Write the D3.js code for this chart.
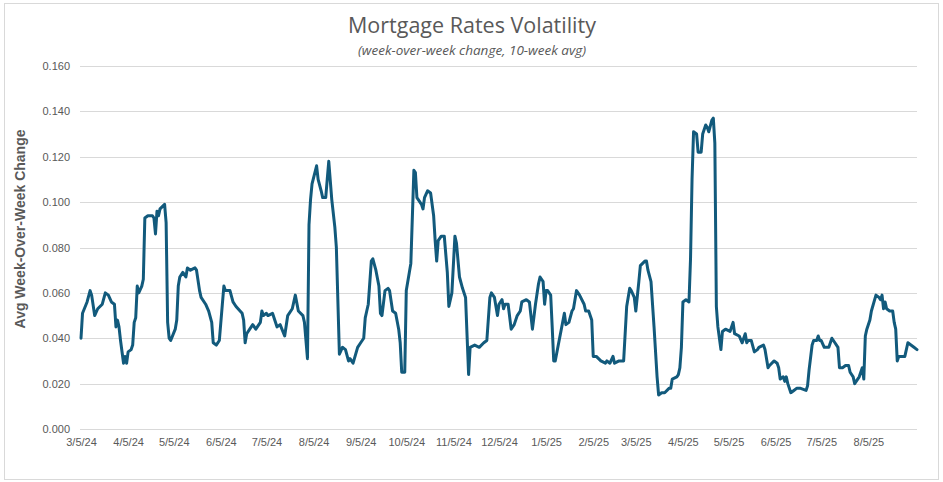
<!DOCTYPE html>
<html>
<head>
<meta charset="utf-8">
<script src="https://cdn.jsdelivr.net/npm/d3@7"></script>
<style>
  html, body { margin: 0; padding: 0; background: #fff; }
  svg { display: block; }
</style>
</head>
<body>
<svg id="chart" width="943" height="482"></svg>
<script>
const titleText = "Mortgage Rates Volatility";
const subtitleText = "(week-over-week change, 10-week avg)";
const yAxisTitle = "Avg Week-Over-Week Change";

const dates = [
"2024-03-05","2024-03-06","2024-03-09","2024-03-11","2024-03-12","2024-03-14","2024-03-16","2024-03-19","2024-03-21","2024-03-23",
"2024-03-25","2024-03-27","2024-03-28","2024-03-29","2024-03-30","2024-03-31","2024-04-02","2024-04-03","2024-04-04","2024-04-05",
"2024-04-07","2024-04-08","2024-04-09","2024-04-10","2024-04-11","2024-04-12","2024-04-14","2024-04-15","2024-04-16","2024-04-18",
"2024-04-21","2024-04-22","2024-04-23","2024-04-24","2024-04-25","2024-04-26","2024-04-29","2024-04-30","2024-05-01","2024-05-02",
"2024-05-03","2024-05-06","2024-05-07","2024-05-08","2024-05-09","2024-05-11","2024-05-13","2024-05-14","2024-05-16","2024-05-19",
"2024-05-20","2024-05-22","2024-05-23","2024-05-26","2024-05-28","2024-05-30","2024-05-31","2024-06-02","2024-06-04","2024-06-06",
"2024-06-07","2024-06-08","2024-06-11","2024-06-13","2024-06-15","2024-06-19","2024-06-20","2024-06-21","2024-06-22","2024-06-24",
"2024-06-26","2024-06-28","2024-07-01","2024-07-02","2024-07-03","2024-07-05","2024-07-06","2024-07-09","2024-07-12","2024-07-14",
"2024-07-17","2024-07-19","2024-07-22","2024-07-24","2024-07-26","2024-07-29","2024-07-30","2024-08-01","2024-08-02","2024-08-03",
"2024-08-04","2024-08-07","2024-08-08","2024-08-10","2024-08-11","2024-08-13","2024-08-14","2024-08-15","2024-08-17","2024-08-19",
"2024-08-20","2024-08-22","2024-08-24","2024-08-26","2024-08-28","2024-08-29","2024-08-31","2024-09-03","2024-09-05","2024-09-07",
"2024-09-08","2024-09-09","2024-09-10","2024-09-12","2024-09-13","2024-09-15","2024-09-17","2024-09-18","2024-09-19","2024-09-21",
"2024-09-23","2024-09-24","2024-09-26","2024-09-28","2024-09-30","2024-10-01","2024-10-02","2024-10-04","2024-10-05","2024-10-07",
"2024-10-08","2024-10-10","2024-10-11","2024-10-12","2024-10-15","2024-10-16","2024-10-17","2024-10-19","2024-10-21","2024-10-23",
"2024-10-24","2024-10-25","2024-10-26","2024-10-28","2024-10-30","2024-11-01","2024-11-02","2024-11-04","2024-11-06","2024-11-07",
"2024-11-09","2024-11-11","2024-11-13","2024-11-14","2024-11-15","2024-11-16","2024-11-19","2024-11-22","2024-11-25","2024-11-27",
"2024-11-29","2024-11-30","2024-12-02","2024-12-04","2024-12-05","2024-12-07","2024-12-08","2024-12-09","2024-12-11","2024-12-13",
"2024-12-15","2024-12-17","2024-12-19","2024-12-20","2024-12-23","2024-12-25","2024-12-27","2024-12-29","2024-12-31","2025-01-01",
"2025-01-03","2025-01-04","2025-01-05","2025-01-06","2025-01-08","2025-01-09","2025-01-10","2025-01-11","2025-01-13","2025-01-15",
"2025-01-17","2025-01-18","2025-01-20","2025-01-22","2025-01-23","2025-01-25","2025-01-27","2025-01-30","2025-01-31","2025-02-02",
"2025-02-04","2025-02-05","2025-02-07","2025-02-10","2025-02-13","2025-02-14","2025-02-16","2025-02-18","2025-02-19","2025-02-22",
"2025-02-25","2025-02-27","2025-03-01","2025-03-02","2025-03-04","2025-03-05","2025-03-07","2025-03-08","2025-03-11","2025-03-12",
"2025-03-13","2025-03-15","2025-03-17","2025-03-19","2025-03-20","2025-03-22","2025-03-24","2025-03-27","2025-03-28","2025-03-29",
"2025-04-01","2025-04-02","2025-04-03","2025-04-04","2025-04-05","2025-04-07","2025-04-09","2025-04-10","2025-04-11","2025-04-12",
"2025-04-14","2025-04-15","2025-04-17","2025-04-18","2025-04-20","2025-04-21","2025-04-22","2025-04-24","2025-04-25","2025-04-26",
"2025-04-27","2025-04-28","2025-04-30","2025-05-01","2025-05-03","2025-05-06","2025-05-08","2025-05-09","2025-05-12","2025-05-14",
"2025-05-16","2025-05-17","2025-05-18","2025-05-20","2025-05-22","2025-05-24","2025-05-25","2025-05-28","2025-05-29","2025-05-31",
"2025-06-01","2025-06-04","2025-06-06","2025-06-07","2025-06-08","2025-06-10","2025-06-11","2025-06-12","2025-06-13","2025-06-15",
"2025-06-17","2025-06-19","2025-06-21","2025-06-25","2025-06-26","2025-06-27","2025-06-29","2025-06-30","2025-07-02","2025-07-03",
"2025-07-04","2025-07-05","2025-07-07","2025-07-09","2025-07-10","2025-07-12","2025-07-14","2025-07-16","2025-07-17","2025-07-19",
"2025-07-21","2025-07-23","2025-07-24","2025-07-26","2025-07-27","2025-07-30","2025-07-31","2025-08-01","2025-08-02","2025-08-03",
"2025-08-04","2025-08-06","2025-08-07","2025-08-10","2025-08-12","2025-08-13","2025-08-14","2025-08-15","2025-08-16","2025-08-17",
"2025-08-19","2025-08-21","2025-08-22","2025-08-23","2025-08-24","2025-08-25","2025-08-27","2025-08-29","2025-08-31","2025-09-02",
"2025-09-04","2025-09-06"
];

const volatility = [
0.040,0.051,0.056,0.061,0.059,0.050,0.053,0.055,0.060,0.059,
0.056,0.055,0.045,0.048,0.045,0.039,0.029,0.032,0.029,0.034,
0.035,0.037,0.047,0.049,0.063,0.060,0.063,0.066,0.093,0.094,
0.094,0.093,0.086,0.096,0.094,0.097,0.099,0.091,0.047,0.040,
0.039,0.044,0.048,0.063,0.067,0.069,0.067,0.071,0.070,0.071,
0.070,0.061,0.058,0.055,0.052,0.047,0.038,0.037,0.039,0.055,
0.063,0.061,0.061,0.056,0.054,0.051,0.048,0.038,0.042,0.044,
0.046,0.044,0.047,0.052,0.050,0.051,0.050,0.051,0.045,0.046,
0.041,0.050,0.053,0.059,0.052,0.050,0.047,0.031,0.090,0.101,
0.108,0.116,0.110,0.105,0.102,0.102,0.110,0.118,0.101,0.089,
0.080,0.033,0.036,0.035,0.030,0.031,0.029,0.036,0.038,0.040,
0.049,0.052,0.055,0.074,0.075,0.070,0.063,0.051,0.050,0.061,
0.062,0.061,0.052,0.051,0.044,0.038,0.025,0.025,0.061,0.069,
0.073,0.114,0.113,0.102,0.099,0.097,0.102,0.105,0.104,0.094,
0.083,0.074,0.083,0.085,0.085,0.069,0.054,0.060,0.085,0.082,
0.067,0.062,0.058,0.041,0.024,0.036,0.037,0.036,0.038,0.039,
0.058,0.060,0.058,0.050,0.055,0.057,0.053,0.055,0.055,0.044,
0.046,0.050,0.052,0.056,0.057,0.056,0.044,0.055,0.064,0.067,
0.065,0.055,0.061,0.061,0.059,0.045,0.030,0.030,0.037,0.044,
0.051,0.046,0.047,0.052,0.053,0.061,0.059,0.055,0.052,0.052,
0.048,0.032,0.032,0.030,0.029,0.030,0.029,0.032,0.029,0.030,
0.030,0.054,0.062,0.061,0.058,0.052,0.065,0.072,0.074,0.074,
0.070,0.065,0.045,0.023,0.015,0.016,0.016,0.018,0.018,0.022,
0.023,0.024,0.027,0.036,0.056,0.057,0.056,0.075,0.110,0.131,
0.130,0.122,0.122,0.130,0.134,0.133,0.131,0.136,0.137,0.126,
0.054,0.045,0.035,0.043,0.044,0.043,0.047,0.042,0.041,0.038,
0.042,0.038,0.039,0.039,0.034,0.035,0.036,0.037,0.035,0.027,
0.028,0.030,0.029,0.027,0.022,0.023,0.021,0.023,0.020,0.016,
0.017,0.018,0.018,0.017,0.019,0.026,0.037,0.039,0.039,0.041,
0.039,0.039,0.036,0.036,0.036,0.040,0.038,0.036,0.027,0.027,
0.028,0.028,0.025,0.023,0.020,0.023,0.025,0.027,0.022,0.041,
0.044,0.048,0.052,0.059,0.058,0.057,0.059,0.053,0.056,0.053,
0.052,0.052,0.047,0.044,0.030,0.032,0.032,0.032,0.038,0.037,
0.036,0.035
];

const yTicks = [0, 0.02, 0.04, 0.06, 0.08, 0.10, 0.12, 0.14, 0.16];
const xTickDates = ["2024-03-05","2024-04-05","2024-05-05","2024-06-05","2024-07-05","2024-08-05","2024-09-05",
  "2024-10-05","2024-11-05","2024-12-05","2025-01-05","2025-02-05","2025-03-05","2025-04-05","2025-05-05",
  "2025-06-05","2025-07-05","2025-08-05"];
const xDomain = ["2024-03-05", "2025-09-06"];

const parse = d3.timeParse("%Y-%m-%d");
const data = dates.map((d, i) => ({ date: parse(d), value: volatility[i] }));

const svg = d3.select("#chart");
const W = 943, H = 482;
const mLeft = 81, mRight = 917, mTop = 66, mBottom = 429;

svg.append("rect")
  .attr("x", 4.5).attr("y", 3.5).attr("width", W - 9).attr("height", H - 6)
  .attr("fill", "#fff").attr("stroke", "#d9d9d9").attr("stroke-width", 1);

const x = d3.scaleTime().domain(xDomain.map(parse)).range([mLeft, mRight]);
const y = d3.scaleLinear().domain([0, 0.16]).range([mBottom, mTop]);

svg.append("g").selectAll("line").data(yTicks).join("line")
  .attr("x1", mLeft - 1).attr("x2", mRight)
  .attr("y1", d => Math.round(y(d)) + 0.5).attr("y2", d => Math.round(y(d)) + 0.5)
  .attr("stroke", "#d9d9d9").attr("stroke-width", 1);

const yAxis = d3.axisLeft(y).tickValues(yTicks).tickFormat(d3.format(".3f")).tickSize(0).tickPadding(10);
const gy = svg.append("g").attr("transform", `translate(${mLeft - 1},0)`).call(yAxis);
gy.select(".domain").remove();
gy.selectAll("text").attr("fill", "#595959").style("font-family", "'Liberation Sans', Arial, sans-serif").style("font-size", "11px");

const xAxis = d3.axisBottom(x).tickValues(xTickDates.map(parse)).tickFormat(d3.timeFormat("%-m/%-d/%y")).tickSize(0).tickPadding(9);
const gx = svg.append("g").attr("transform", `translate(0,${mBottom})`).call(xAxis);
gx.select(".domain").remove();
gx.selectAll("text").attr("fill", "#595959").style("font-family", "'Liberation Sans', Arial, sans-serif").style("font-size", "11px");

const line = d3.line().x(d => x(d.date)).y(d => y(d.value));
svg.append("path").datum(data)
  .attr("d", line)
  .attr("fill", "none")
  .attr("stroke", "#125a7c")
  .attr("stroke-width", 3)
  .attr("stroke-linejoin", "round")
  .attr("stroke-linecap", "round");

svg.append("text").attr("x", 472).attr("y", 33).attr("text-anchor", "middle")
  .attr("fill", "#595959").style("font-family", "'Open Sans', sans-serif").style("font-size", "21.5px")
  .text(titleText);
svg.append("text").attr("x", 472).attr("y", 55).attr("text-anchor", "middle")
  .attr("fill", "#595959").style("font-family", "'Open Sans', sans-serif").style("font-size", "13.5px").style("font-style", "italic")
  .text(subtitleText);

svg.append("text")
  .attr("transform", `translate(25,229) rotate(-90)`)
  .attr("text-anchor", "middle")
  .attr("fill", "#595959").style("font-family", "'Liberation Sans', Arial, sans-serif").style("font-size", "14px").style("font-weight", "bold")
  .text(yAxisTitle);
</script>
</body>
</html>
